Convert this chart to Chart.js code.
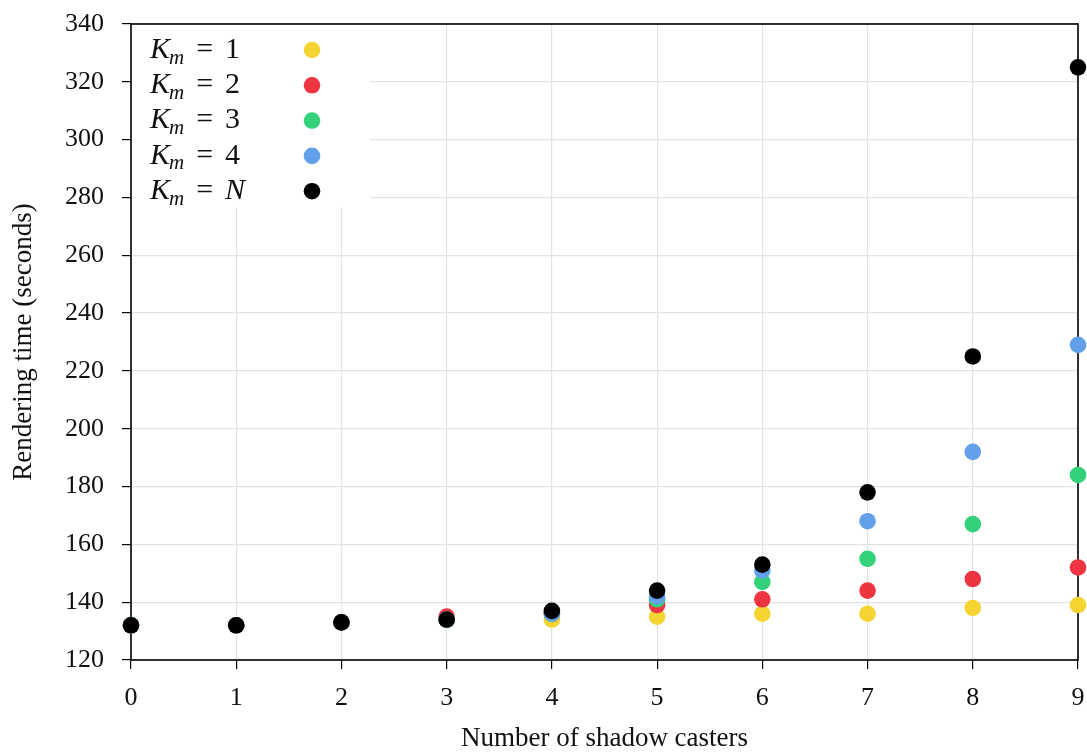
<!DOCTYPE html>
<html>
<head>
<meta charset="utf-8">
<script src="https://cdn.jsdelivr.net/npm/chart.js@4"></script>
<style>
  html, body { margin: 0; padding: 0; background: #fff; }
  #wrap { width: 1087px; height: 755px; }
</style>
</head>
<body>
<div id="wrap"><canvas id="chart" width="1087" height="755"></canvas></div>
<script>
const casters = [0, 1, 2, 3, 4, 5, 6, 7, 8, 9];
const kmLabels = ['1', '2', '3', '4', 'N'];
const km1 = [132, 132, 133, 134, 134, 135, 136, 136, 138, 139];
const km2 = [132, 132, 133, 135, 136, 139, 141, 144, 148, 152];
const km3 = [132, 132, 133, 134, 136, 141, 147, 155, 167, 184];
const km4 = [132, 132, 133, 134, 136, 142, 151, 168, 192, 229];
const kmN = [132, 132, 133, 134, 137, 144, 153, 178, 225, 325];
const colors = ['#f5d431', '#ee3440', '#33d17a', '#62a0ea', '#000000'];
const yTicks = [120, 140, 160, 180, 200, 220, 240, 260, 280, 300, 320, 340];

const serif = "'Liberation Serif', 'DejaVu Serif', serif";

function makeDataset(values, i) {
    return {
        label: 'Km = ' + kmLabels[i],
        data: casters.map((x, j) => ({ x: x, y: values[j] })),
        backgroundColor: colors[i],
        borderColor: colors[i],
        pointRadius: 8.3,
        pointHoverRadius: 8.3,
        borderWidth: 0,
        showLine: false,
        clip: false,
        order: 4 - i // later series sit on top
    };
}

// legend box + frame, drawn under the points
const frameAndLegend = {
    id: 'frameAndLegend',
    beforeDatasetsDraw(chart) {
        const ctx = chart.ctx;
        const a = chart.chartArea;
        ctx.save();
        ctx.fillStyle = '#fff';
        ctx.fillRect(a.left, a.top, 239, 183);

        ctx.strokeStyle = '#000';
        ctx.lineWidth = 1.6;
        ctx.strokeRect(a.left, a.top, a.right - a.left, a.bottom - a.top);

        ctx.textBaseline = 'middle';
        kmLabels.forEach((lab, i) => {
            const y = a.top + 26 + i * 35.3;
            let x = a.left + 19;
            ctx.fillStyle = '#111';
            ctx.font = "italic 30px " + serif;
            ctx.fillText('K', x, y);
            x += ctx.measureText('K').width - 1;
            ctx.font = "italic 21px " + serif;
            ctx.fillText('m', x, y + 8);
            x += ctx.measureText('m').width + 12;
            ctx.font = "30px " + serif;
            ctx.fillText('=', x, y);
            x += ctx.measureText('=').width + 12;
            ctx.font = (lab === 'N' ? 'italic ' : '') + "30px " + serif;
            ctx.fillText(lab, x, y);

            ctx.beginPath();
            ctx.fillStyle = colors[i];
            ctx.arc(a.left + 181, y, 8.3, 0, Math.PI * 2);
            ctx.fill();
        });
        ctx.restore();
    }
};

new Chart(document.getElementById('chart'), {
    type: 'scatter',
    data: {
        datasets: [km1, km2, km3, km4, kmN].map(makeDataset)
    },
    options: {
        responsive: false,
        animation: false,
        layout: { padding: { top: 24, right: 9, left: 0, bottom: 0 } },
        plugins: {
            legend: { display: false },
            tooltip: { enabled: false }
        },
        scales: {
            x: {
                type: 'linear',
                min: 0,
                max: 9,
                afterFit: (scale) => {
                    scale.height = 95;
                    scale.paddingLeft = 0;
                    scale.paddingRight = 0;
                },
                ticks: {
                    stepSize: 1,
                    padding: 14,
                    color: '#111',
                    font: { family: serif, size: 26 }
                },
                grid: { color: '#e3e3e3', lineWidth: 1.2, tickColor: '#000', tickLength: 9 },
                border: { display: false },
                title: {
                    display: true,
                    text: 'Number of shadow casters',
                    color: '#111',
                    font: { family: serif, size: 27 },
                    padding: { top: -3, bottom: 0 }
                }
            },
            y: {
                min: 120,
                max: 340,
                afterFit: (scale) => {
                    scale.width = 131;
                    scale.paddingTop = 0;
                    scale.paddingBottom = 0;
                },
                afterBuildTicks: (scale) => { scale.ticks = yTicks.map(v => ({ value: v })); },
                ticks: {
                    padding: 18,
                    color: '#111',
                    font: { family: serif, size: 26 }
                },
                grid: { color: '#e3e3e3', lineWidth: 1.2, tickColor: '#000', tickLength: 9 },
                border: { display: false },
                title: {
                    display: true,
                    text: 'Rendering time (seconds)',
                    color: '#111',
                    font: { family: serif, size: 27 },
                    padding: { top: 8, bottom: 0 }
                }
            }
        }
    },
    plugins: [frameAndLegend]
});
</script>
</body>
</html>
